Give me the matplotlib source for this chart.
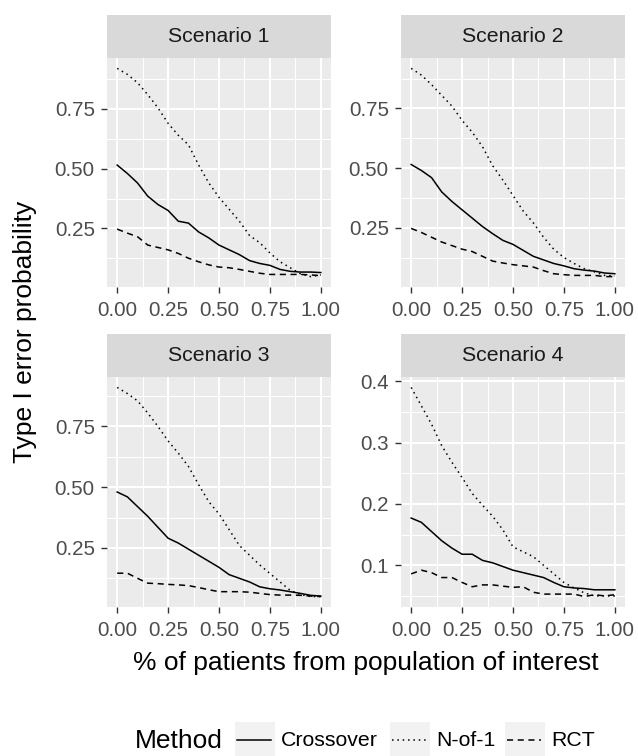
import numpy as np
import matplotlib
matplotlib.use('Agg')
import matplotlib.pyplot as plt
from matplotlib.patches import Rectangle
from matplotlib.lines import Line2D

plt.rcParams['font.family'] = ['Liberation Sans', 'DejaVu Sans']

# 資料：x 軸為族群比例
prop = [0.00, 0.05, 0.10, 0.15, 0.20, 0.25, 0.30, 0.35, 0.40, 0.45, 0.50,
        0.55, 0.60, 0.65, 0.70, 0.75, 0.80, 0.85, 0.90, 0.95, 1.00]

scenarios = ['Scenario 1', 'Scenario 2', 'Scenario 3', 'Scenario 4']
methods = ['Crossover', 'N-of-1', 'RCT']

s1_crossover = [0.515, 0.48, 0.44, 0.385, 0.35, 0.325, 0.28, 0.272, 0.235, 0.21, 0.18,
                0.16, 0.14, 0.115, 0.103, 0.095, 0.078, 0.07, 0.067, 0.067, 0.065]
s1_nof1 = [0.92, 0.895, 0.86, 0.81, 0.755, 0.69, 0.64, 0.60, 0.515, 0.44, 0.38,
           0.33, 0.28, 0.22, 0.19, 0.147, 0.11, 0.085, 0.06, 0.048, 0.055]
s1_rct = [0.247, 0.23, 0.215, 0.18, 0.17, 0.16, 0.145, 0.125, 0.11, 0.097, 0.088,
          0.085, 0.078, 0.07, 0.062, 0.057, 0.057, 0.057, 0.057, 0.055, 0.052]

s2_crossover = [0.515, 0.49, 0.46, 0.40, 0.36, 0.325, 0.29, 0.255, 0.225, 0.197, 0.18,
                0.155, 0.13, 0.115, 0.10, 0.09, 0.078, 0.072, 0.068, 0.06, 0.057]
s2_nof1 = [0.918, 0.89, 0.85, 0.805, 0.76, 0.70, 0.65, 0.59, 0.51, 0.45, 0.385,
           0.32, 0.27, 0.21, 0.16, 0.125, 0.10, 0.078, 0.065, 0.05, 0.048]
s2_rct = [0.247, 0.23, 0.21, 0.19, 0.175, 0.16, 0.15, 0.13, 0.11, 0.102, 0.095,
          0.09, 0.085, 0.07, 0.057, 0.053, 0.05, 0.05, 0.05, 0.045, 0.045]

s3_crossover = [0.48, 0.46, 0.42, 0.38, 0.335, 0.29, 0.27, 0.245, 0.22, 0.195, 0.17,
                0.14, 0.125, 0.11, 0.09, 0.082, 0.077, 0.07, 0.063, 0.055, 0.052]
s3_nof1 = [0.91, 0.885, 0.855, 0.805, 0.75, 0.69, 0.64, 0.585, 0.51, 0.44, 0.39,
           0.325, 0.26, 0.22, 0.18, 0.145, 0.11, 0.075, 0.058, 0.05, 0.05]
s3_rct = [0.146, 0.146, 0.125, 0.105, 0.103, 0.10, 0.098, 0.095, 0.087, 0.078, 0.07,
          0.07, 0.07, 0.068, 0.063, 0.058, 0.056, 0.056, 0.055, 0.052, 0.05]

s4_crossover = [0.177, 0.17, 0.155, 0.14, 0.128, 0.118, 0.118, 0.108, 0.104, 0.098, 0.092,
                0.088, 0.084, 0.08, 0.072, 0.065, 0.063, 0.062, 0.06, 0.06, 0.06]
s4_nof1 = [0.39, 0.36, 0.33, 0.295, 0.268, 0.243, 0.217, 0.198, 0.18, 0.158, 0.13,
           0.122, 0.114, 0.10, 0.086, 0.072, 0.063, 0.055, 0.05, 0.05, 0.05]
s4_rct = [0.086, 0.092, 0.088, 0.08, 0.08, 0.072, 0.065, 0.068, 0.068, 0.066, 0.064,
          0.065, 0.056, 0.053, 0.053, 0.053, 0.053, 0.049, 0.052, 0.05, 0.052]

data = [
    [s1_crossover, s1_nof1, s1_rct],
    [s2_crossover, s2_nof1, s2_rct],
    [s3_crossover, s3_nof1, s3_rct],
    [s4_crossover, s4_nof1, s4_rct],
]

x_ticks = [0.00, 0.25, 0.50, 0.75, 1.00]
y_ticks = [[0.25, 0.50, 0.75], [0.25, 0.50, 0.75], [0.25, 0.50, 0.75], [0.1, 0.2, 0.3, 0.4]]

# 線型
styles = {'Crossover': '-', 'N-of-1': (0, (1, 2.5)), 'RCT': (0, (4, 3))}

W, H = 638, 756
fig = plt.figure(figsize=(W / 100, H / 100), dpi=100)


def fx(px):
    return px / W


def fy(py):
    return 1 - py / H


# 面板位置（像素）
panels = [(107, 58, 331, 287), (401, 58, 625, 287),
          (107, 377, 331, 607), (401, 377, 625, 607)]
strip_h = 43
small = 14.8

for i, (x0, y0, x1, y1) in enumerate(panels):
    ax = fig.add_axes([fx(x0), fy(y1), fx(x1) - fx(x0), fy(y0) - fy(y1)])
    ax.set_facecolor('#EBEBEB')
    for m, series in zip(methods, data[i]):
        ax.plot(prop, series, color='black', lw=1.1, linestyle=styles[m])
    allv = np.concatenate([np.array(s) for s in data[i]])
    lo, hi = allv.min(), allv.max()
    pad = (hi - lo) * 0.05
    ax.set_ylim(lo - pad, hi + pad)
    ax.set_xlim(-0.05, 1.05)
    ax.set_xticks(x_ticks)
    ax.set_xticklabels(['%.2f' % v for v in x_ticks])
    yt = y_ticks[i]
    ax.set_yticks(yt)
    if i == 3:
        ax.set_yticklabels(['%.1f' % v for v in yt])
        ax.set_yticks([0.05, 0.15, 0.25, 0.35], minor=True)
    else:
        ax.set_yticklabels(['%.2f' % v for v in yt])
        ax.set_yticks([0.125, 0.375, 0.625, 0.875], minor=True)
    ax.set_xticks([0.125, 0.375, 0.625, 0.875], minor=True)
    ax.grid(which='major', color='white', lw=1.5)
    ax.grid(which='minor', color='white', lw=0.75)
    ax.set_axisbelow(True)
    for sp in ax.spines.values():
        sp.set_visible(False)
    ax.tick_params(which='major', length=4.3, width=1.0, color='#333333',
                   labelsize=small, labelcolor='#4D4D4D')
    ax.tick_params(axis='x', which='major', pad=6)
    ax.tick_params(axis='y', which='major', pad=4.5)
    ax.tick_params(which='minor', length=0)

    # 標題條
    sax = fig.add_axes([fx(x0), fy(y0), fx(x1) - fx(x0), fy(y0 - strip_h) - fy(y0)])
    sax.set_facecolor('#D9D9D9')
    sax.set_xticks([])
    sax.set_yticks([])
    for sp in sax.spines.values():
        sp.set_visible(False)
    sax.text(0.5, 0.5, scenarios[i], ha='center', va='center', fontsize=15.3,
             color='#1A1A1A', transform=sax.transAxes)

# 軸標題
fig.text(fx(366), fy(663), '% of patients from population of interest',
         ha='center', va='center', fontsize=19)
fig.text(fx(25), fy(332), 'Type I error probability', ha='center', va='center',
         rotation=90, fontsize=19)

# 圖例
fig.text(fx(223), fy(741), 'Method', ha='right', va='center', fontsize=19)
key_x = [235, 390, 505]
for m, kx in zip(methods, key_x):
    fig.add_artist(Rectangle((fx(kx), fy(758)), fx(kx + 40) - fx(kx), fy(722) - fy(758),
                             transform=fig.transFigure, facecolor='#F2F2F2',
                             edgecolor='none'))
    fig.add_artist(Line2D([fx(kx + 2), fx(kx + 36)], [fy(740), fy(740)],
                          transform=fig.transFigure, color='black', lw=1.1,
                          linestyle=styles[m]))
    fig.text(fx(kx + 46), fy(741), m, ha='left', va='center', fontsize=15.3)

fig.savefig('out.png', dpi=100)
